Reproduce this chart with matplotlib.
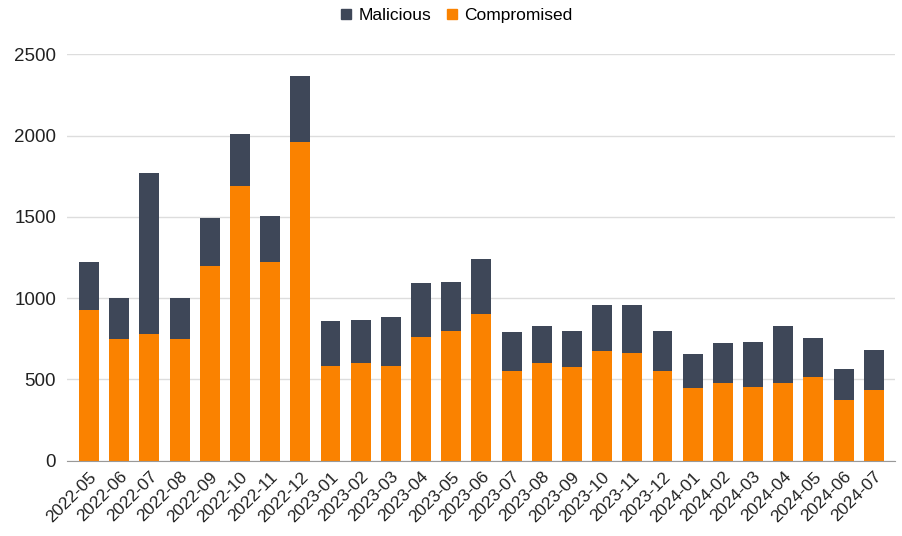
#
# Monthly count of malicious vs compromised sites - stacked bars
#

import numpy as np
import matplotlib
matplotlib.use('Agg')
from matplotlib import pyplot as plt
from matplotlib.lines import Line2D

plt.rcParams['font.family'] = ['Liberation Sans', 'DejaVu Sans']

# =========================================================================

months = ['2022-05', '2022-06', '2022-07', '2022-08', '2022-09', '2022-10',
          '2022-11', '2022-12', '2023-01', '2023-02', '2023-03', '2023-04',
          '2023-05', '2023-06', '2023-07', '2023-08', '2023-09', '2023-10',
          '2023-11', '2023-12', '2024-01', '2024-02', '2024-03', '2024-04',
          '2024-05', '2024-06', '2024-07']

compromised = [925, 750, 780, 750, 1195, 1690, 1220, 1960, 580, 602, 584, 760,
               799, 900, 553, 599, 576, 676, 662, 549, 445, 480, 455, 480,
               513, 371, 435]

malicious = [300, 250, 990, 250, 300, 318, 288, 405, 277, 263, 303, 336,
             301, 338, 240, 229, 225, 281, 299, 248, 211, 243, 275, 346,
             243, 191, 245]

yticks = [0, 500, 1000, 1500, 2000, 2500]

orange = '#FA8200'
slate = '#3E4758'

# =========================================================================

fig = plt.figure(figsize=(9.03, 5.36), dpi=100)
ax = fig.add_axes([0.0745, 0.1405, 0.9165, 0.758])

x = np.arange(len(months))
ax.bar(x, compromised, width=0.66, color=orange, zorder=3)
ax.bar(x, malicious, width=0.66, bottom=compromised, color=slate, zorder=3)

ax.set_xlim(-0.72, len(months) - 0.3)
ax.set_ylim(0, 2500)
ax.set_yticks(yticks)
ax.set_yticklabels([str(v) for v in yticks], fontsize=13.5, color='#222222')
ax.set_xticks(x)
ax.set_xticklabels(months, rotation=45, ha='right', rotation_mode='anchor',
                   fontsize=12.5, color='#222222')

ax.grid(axis='y', color='#DDDDDD', linewidth=1, zorder=0)
for s in ['top', 'right', 'left']:
  ax.spines[s].set_visible(False)
ax.spines['bottom'].set_color('#999999')
ax.spines['bottom'].set_zorder(4)
ax.tick_params(axis='both', length=0)
ax.tick_params(axis='y', pad=8)
ax.tick_params(axis='x', pad=6)

handles = [Line2D([], [], marker='s', linestyle='none', markersize=6.5,
                  color=slate, label='Malicious'),
           Line2D([], [], marker='s', linestyle='none', markersize=6.5,
                  color=orange, label='Compromised')]
fig.legend(handles=handles, loc='center', bbox_to_anchor=(0.505, 0.972),
           ncol=2, frameon=False, fontsize=12.5, handletextpad=0.3,
           columnspacing=0.8, handlelength=0.8)

fig.savefig('out.png', dpi=100)
